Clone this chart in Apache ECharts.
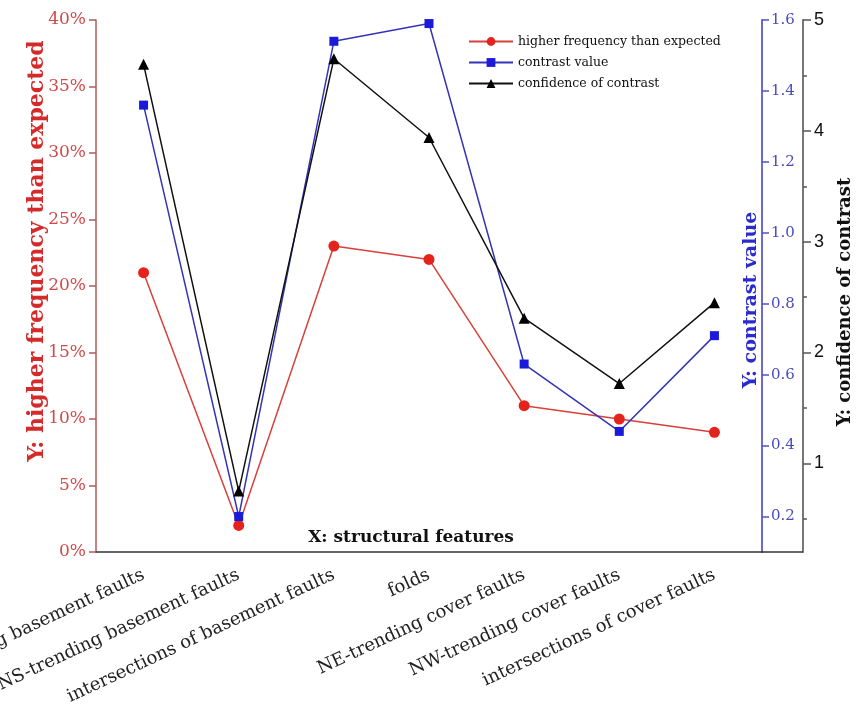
<!DOCTYPE html>
<html>
<head>
<meta charset="utf-8">
<script src="https://cdn.jsdelivr.net/npm/echarts@6/dist/echarts.min.js"></script>
<style>
  html, body { margin: 0; padding: 0; background: #fff; }
  #chart { width: 856px; height: 715px; }
</style>
</head>
<body>
<div id="chart"></div>
<script>
// Structural features on the x axis
const categories = [
  'NE-trending basement faults',
  'NS-trending basement faults',
  'intersections of basement faults',
  'folds',
  'NE-trending cover faults',
  'NW-trending cover faults',
  'intersections of cover faults'
];
// Share of occurrences above the expected frequency, in percent
const higherFrequency = [21, 2, 23, 22, 11, 10, 9];
// Contrast value per feature
const contrastValue = [1.36, 0.2, 1.54, 1.59, 0.63, 0.44, 0.71];
// Confidence of the contrast per feature
const contrastConfidence = [4.6, 0.75, 4.65, 3.94, 2.31, 1.72, 2.45];

// Tick labels on the two right-hand axes
const contrastTicks = [0.2, 0.4, 0.6, 0.8, 1.0, 1.2, 1.4, 1.6];
const confidenceTicks = [1, 2, 3, 4, 5];
const confidenceMinorTicks = [0.5, 1.5, 2.5, 3.5, 4.5];

const serif = 'DejaVu Serif';
const chart = echarts.init(document.getElementById('chart'));

chart.setOption({
  animation: false,
  backgroundColor: '#ffffff',
  grid: { left: 96, right: 94, top: 20, bottom: 163, containLabel: false, outerBoundsMode: 'none' },
  legend: {
    orient: 'vertical',
    left: 463,
    top: 30,
    itemWidth: 44,
    itemHeight: 11,
    itemGap: 8,
    textStyle: { fontFamily: serif, fontSize: 12.5, color: '#111' },
    data: ['higher frequency than expected', 'contrast value', 'confidence of contrast']
  },
  xAxis: {
    type: 'category',
    data: categories,
    boundaryGap: true,
    name: 'X: structural features',
    nameLocation: 'middle',
    nameGap: -23,
    nameMoveOverlap: false,
    nameTextStyle: { fontFamily: serif, fontWeight: 'bold', fontSize: 17, color: '#111', padding: [0, 36, 0, 0] },
    axisLine: { lineStyle: { color: '#333', width: 1.5 } },
    axisTick: { alignWithLabel: true, length: 8, lineStyle: { color: '#333', width: 1.5 } },
    axisLabel: {
      rotate: 25,
      interval: 0,
      margin: 22,
      fontFamily: serif,
      fontSize: 18,
      color: '#222'
    },
    splitLine: { show: false }
  },
  yAxis: [
    {
      type: 'value',
      position: 'left',
      min: 0,
      max: 40,
      interval: 5,
      name: 'Y: higher frequency than expected',
      nameLocation: 'middle',
      nameGap: 48,
      nameRotate: 90,
      nameMoveOverlap: false,
      nameTextStyle: { fontFamily: serif, fontWeight: 'bold', fontSize: 22, color: '#d42a2a', padding: [0, 0, 0, 70] },
      axisLine: { show: true, lineStyle: { color: '#b25a5a', width: 1.5 } },
      axisTick: { show: true, length: 7, lineStyle: { color: '#b25a5a', width: 1.5 } },
      axisLabel: { formatter: '{value}%', fontFamily: serif, fontSize: 17, color: '#d04a4a', margin: 10 },
      splitLine: { show: false }
    },
    {
      type: 'value',
      position: 'right',
      min: 0.1,
      max: 1.6,
      name: 'Y: contrast value',
      nameLocation: 'middle',
      nameGap: -20,
      nameRotate: 90,
      nameMoveOverlap: false,
      nameTextStyle: { fontFamily: serif, fontWeight: 'bold', fontSize: 19, color: '#2a2ad0', padding: [0, 28, 0, 0] },
      axisLine: { show: true, lineStyle: { color: '#6a6ad0', width: 2 } },
      axisTick: { show: true, length: 7, customValues: contrastTicks, lineStyle: { color: '#5050c0', width: 1.5 } },
      axisLabel: {
        customValues: contrastTicks,
        formatter: v => v.toFixed(1),
        fontFamily: serif, fontSize: 15, color: '#4a4ac0', margin: 9
      },
      splitLine: { show: false }
    },
    {
      type: 'value',
      position: 'right',
      offset: 41,
      min: 0.2,
      max: 5,
      name: 'Y: confidence of contrast',
      nameLocation: 'middle',
      nameGap: 33,
      nameRotate: 90,
      nameMoveOverlap: false,
      nameTextStyle: { fontFamily: serif, fontWeight: 'bold', fontSize: 18, color: '#111', padding: [0, 32, 0, 0] },
      axisLine: { show: true, lineStyle: { color: '#777', width: 2 } },
      axisTick: { show: true, length: 8, customValues: confidenceTicks, lineStyle: { color: '#555', width: 1.5 } },
      axisLabel: {
        customValues: confidenceTicks,
        fontFamily: 'Liberation Sans', fontSize: 18, color: '#111', margin: 11
      },
      splitLine: { show: false }
    },
    {
      // half-step ticks of the confidence axis
      type: 'value',
      position: 'right',
      offset: 41,
      min: 0.2,
      max: 5,
      axisLine: { show: false },
      axisTick: { show: true, length: 4, customValues: confidenceMinorTicks, lineStyle: { color: '#555', width: 1.5 } },
      axisLabel: { show: false },
      splitLine: { show: false }
    }
  ],
  graphic: [
    {
      // x axis baseline continues under the two right-hand axes
      type: 'line',
      shape: { x1: 762, y1: 552, x2: 803, y2: 552 },
      style: { stroke: '#333', lineWidth: 1.5 },
      z: 10
    }
  ],
  series: [
    {
      name: 'higher frequency than expected',
      type: 'line',
      yAxisIndex: 0,
      data: higherFrequency,
      symbol: 'circle',
      symbolSize: 11,
      itemStyle: { color: '#e3231c' },
      lineStyle: { color: '#d8403a', width: 1.5 }
    },
    {
      name: 'contrast value',
      type: 'line',
      yAxisIndex: 1,
      data: contrastValue,
      symbol: 'rect',
      symbolSize: 9,
      itemStyle: { color: '#1a1ad8' },
      lineStyle: { color: '#3434b8', width: 1.5 }
    },
    {
      name: 'confidence of contrast',
      type: 'line',
      yAxisIndex: 2,
      data: contrastConfidence,
      symbol: 'triangle',
      symbolSize: 11,
      itemStyle: { color: '#000' },
      lineStyle: { color: '#111', width: 1.5 }
    }
  ]
});
</script>
</body>
</html>
